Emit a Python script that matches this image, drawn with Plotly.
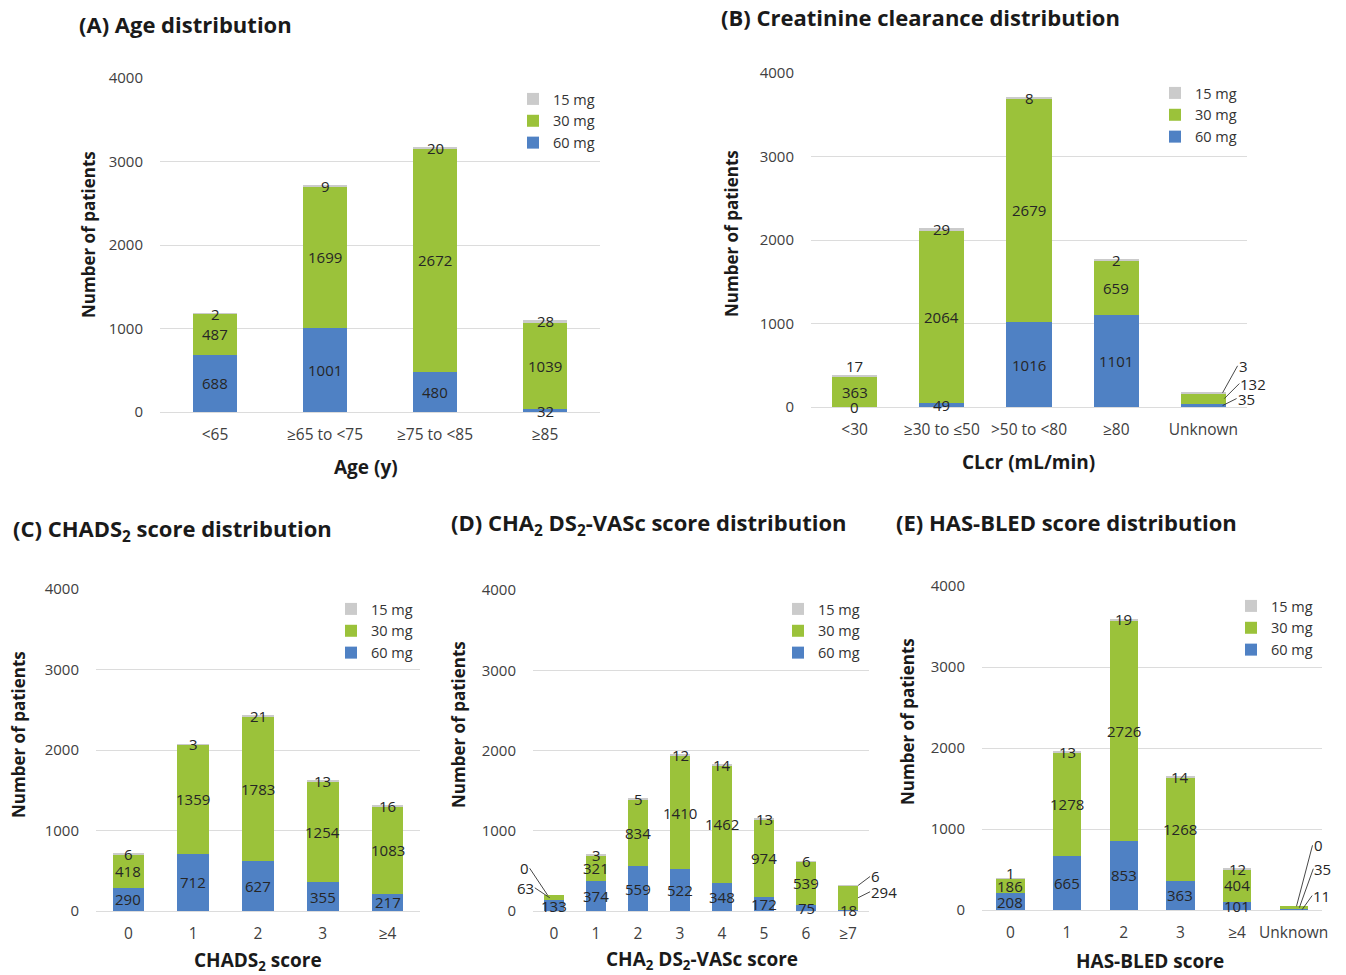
import plotly.graph_objects as go

W, H = 1346, 975

# ---------------- data ----------------
age_cats = ["<65", "≥65 to <75", "≥75 to <85", "≥85"]
age_60 = [688, 1001, 480, 32]
age_30 = [487, 1699, 2672, 1039]
age_15 = [2, 9, 20, 28]

clcr_cats = ["<30", "≥30 to ≤50", ">50 to <80", "≥80", "Unknown"]
clcr_60 = [0, 49, 1016, 1101, 35]
clcr_30 = [363, 2064, 2679, 659, 132]
clcr_15 = [17, 29, 8, 2, 3]

chads_cats = ["0", "1", "2", "3", "≥4"]
chads_60 = [290, 712, 627, 355, 217]
chads_30 = [418, 1359, 1783, 1254, 1083]
chads_15 = [6, 3, 21, 13, 16]

vasc_cats = ["0", "1", "2", "3", "4", "5", "6", "≥7"]
vasc_60 = [133, 374, 559, 522, 348, 172, 75, 18]
vasc_30 = [63, 321, 834, 1410, 1462, 974, 539, 294]
vasc_15 = [0, 3, 5, 12, 14, 13, 6, 6]

hasbled_cats = ["0", "1", "2", "3", "≥4", "Unknown"]
hasbled_60 = [208, 665, 853, 363, 101, 11]
hasbled_30 = [186, 1278, 2726, 1268, 404, 35]
hasbled_15 = [1, 13, 19, 14, 12, 0]

dose_names = ["60 mg", "30 mg", "15 mg"]
y_ticks = [0, 1000, 2000, 3000, 4000]

# ---------------- style ----------------
FONT = "Open Sans"
COL = {"60 mg": "#4f81c4", "30 mg": "#9bc23a", "15 mg": "#cbcbcb"}
TXT = "#262626"
TICK = "#404040"
GRID = "#dcdcdc"


def fx(px):
    return px / W


def fy(py):
    return 1 - py / H


# panel layout: pixel boxes, bar widths, legend anchors, titles, callouts
panels = [
    dict(sfx="", cats=age_cats, vals=[age_60, age_30, age_15],
         box=(160, 600, 78, 412), bw=0.40, leg=(513, 83),
         title="(A) Age distribution", tpos=(77, 24),
         xtitle="Age (y)", xtpos=(366, 467), ytpos=(88, 235),
         shifts={}, callouts={}),
    dict(sfx="2", cats=clcr_cats, vals=[clcr_60, clcr_30, clcr_15],
         box=(811, 1247, 73, 407), bw=0.52, leg=(1155, 77),
         title="(B) Creatinine clearance distribution", tpos=(719, 17),
         xtitle="CLcr (mL/min)", xtpos=(1028, 462), ytpos=(732, 233),
         shifts={(0, 2): 10},
         callouts={(4, 2): (0.22, 15, -27), (4, 1): (0.24, 15, -15),
                   (4, 0): (0.22, 14, -7)}),
    dict(sfx="3", cats=chads_cats, vals=[chads_60, chads_30, chads_15],
         box=(96, 420, 589, 911), bw=0.49, leg=(331, 593),
         title="(C) CHADS<sub>2</sub> score distribution", tpos=(11, 530),
         xtitle="CHADS<sub>2</sub> score", xtpos=(258, 961), ytpos=(18, 735),
         shifts={}, callouts={}),
    dict(sfx="4", cats=vasc_cats, vals=[vasc_60, vasc_30, vasc_15],
         box=(533, 869, 590, 911), bw=0.48, leg=(778, 593),
         title="(D) CHA<sub>2</sub> DS<sub>2</sub>-VASc score distribution",
         tpos=(449, 524),
         xtitle="CHA<sub>2</sub> DS<sub>2</sub>-VASc score", xtpos=(702, 960),
         ytpos=(458, 725),
         shifts={},
         callouts={(0, 2): (-0.15, -18, -27), (0, 1): (-0.1, -15, -10),
                   (7, 2): (0.24, 12, -9), (7, 1): (0.24, 12, -6)}),
    dict(sfx="5", cats=hasbled_cats, vals=[hasbled_60, hasbled_30, hasbled_15],
         box=(982, 1322, 586, 910), bw=0.50, leg=(1231, 590),
         title="(E) HAS-BLED score distribution", tpos=(894, 522),
         xtitle="HAS-BLED score", xtpos=(1150, 961), ytpos=(907, 722),
         shifts={(0, 2): 5},
         callouts={(5, 2): (0.05, 16, -61), (5, 1): (0.1, 14, -39),
                   (5, 0): (0.15, 10, -14)}),
]

fig = go.Figure()
annotations = []
layout = {}

for p in panels:
    sfx = p["sfx"]
    xa, ya = "x" + sfx, "y" + sfx
    leg = "legend" + sfx
    x0, x1, y0, y1 = p["box"]
    cats = p["cats"]

    # stacked bars, bottom to top: 60 mg, 30 mg, 15 mg
    for name, v in zip(dose_names, p["vals"]):
        fig.add_trace(go.Bar(
            x=cats, y=v, name=name, marker=dict(color=COL[name], line=dict(width=0)),
            width=p["bw"], xaxis=xa, yaxis=ya, legend=leg, hoverinfo="skip",
        ))

    # segment value labels at the middle of each segment
    base = [0] * len(cats)
    for si, (name, v) in enumerate(zip(dose_names, p["vals"])):
        for ci, val in enumerate(v):
            mid = base[ci] + val / 2
            top = base[ci] + val
            if (ci, si) in p["callouts"]:
                dxc, ax, ay = p["callouts"][(ci, si)]
                annotations.append(dict(
                    x=ci + dxc, y=mid if si != 2 else top, xref=xa, yref=ya,
                    text=str(val), showarrow=True, arrowhead=0, arrowwidth=0.9,
                    arrowcolor="#333333", ax=ax, ay=ay, standoff=0,
                    xanchor="left" if ax > 0 else "right", yanchor="middle",
                    borderpad=0,
                    font=dict(family=FONT, size=15, color=TXT)))
            else:
                annotations.append(dict(
                    x=ci, y=mid, xref=xa, yref=ya, text=str(val), showarrow=False,
                    yshift=p["shifts"].get((ci, si), 0),
                    font=dict(family=FONT, size=15, color=TXT)))
            base[ci] = top

    xkey = "xaxis" + sfx
    ykey = "yaxis" + sfx
    layout[xkey] = dict(
        domain=[fx(x0), fx(x1)], anchor=ya, type="category",
        range=[-0.5, len(cats) - 0.5], autorange=False, automargin=False,
        showgrid=False, showline=False, zeroline=False, ticks="",
        tickfont=dict(family=FONT, size=15.5, color=TICK), ticklabelstandoff=11,
        fixedrange=True)
    layout[ykey] = dict(
        domain=[fy(y1), fy(y0)], anchor=xa, range=[0, 4000], autorange=False,
        automargin=False,
        tickvals=y_ticks, showgrid=True, gridcolor=GRID, gridwidth=1,
        zeroline=True, zerolinecolor=GRID, zerolinewidth=1.2, showline=False,
        ticks="", tickfont=dict(family=FONT, size=15, color=TICK),
        ticklabelstandoff=16, fixedrange=True)

    lx, ly = p["leg"]
    layout["legend" + sfx] = dict(
        x=fx(lx), y=fy(ly), xanchor="left", yanchor="top",
        traceorder="reversed", itemwidth=30, tracegroupgap=0,
        bgcolor="rgba(0,0,0,0)", font=dict(family=FONT, size=14.5, color="#333333"),
        itemclick=False, itemdoubleclick=False)

    # panel title, axis titles
    tx, ty = p["tpos"]
    annotations.append(dict(
        x=fx(tx), y=fy(ty), xref="paper", yref="paper", xanchor="left",
        yanchor="middle", showarrow=False, text="<b>" + p["title"] + "</b>",
        font=dict(family=FONT, size=22, color="#1a1a1a")))
    xtx, xty = p["xtpos"]
    annotations.append(dict(
        x=fx(xtx), y=fy(xty), xref="paper", yref="paper", xanchor="center",
        yanchor="middle", showarrow=False, text="<b>" + p["xtitle"] + "</b>",
        font=dict(family=FONT, size=19, color="#1a1a1a")))
    ytx, yty = p["ytpos"]
    annotations.append(dict(
        x=fx(ytx), y=fy(yty), xref="paper", yref="paper", xanchor="center",
        yanchor="middle", showarrow=False, text="<b>Number of patients</b>",
        textangle=-90,
        font=dict(family=FONT, size=17, color="#1a1a1a")))

fig.update_layout(
    width=W, height=H, autosize=False, margin=dict(l=0, r=0, t=0, b=0, pad=0),
    paper_bgcolor="white", plot_bgcolor="white",
    barmode="stack", showlegend=True,
    font=dict(family=FONT, color=TXT),
    annotations=annotations, **layout)

fig.write_html("out.html", config={"displayModeBar": False, "responsive": False})
